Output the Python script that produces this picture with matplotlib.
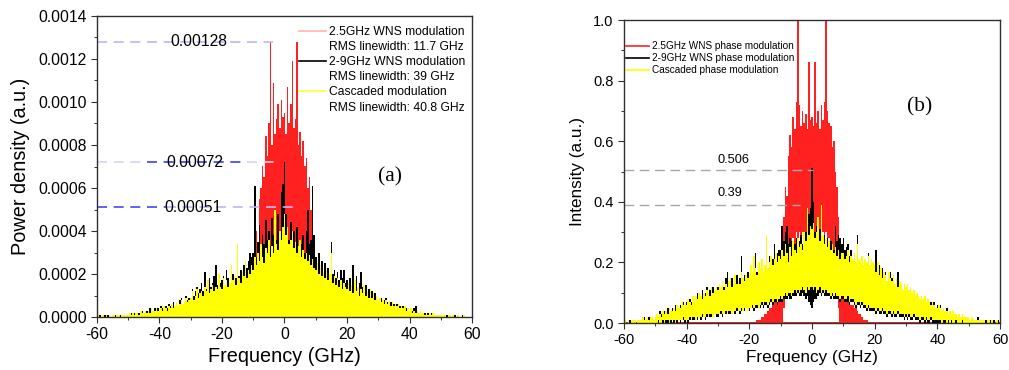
"""
两幅频谱对比图：(a) 功率密度, (b) 强度。
数据是从原图上逐 0.5 GHz 读出的尖峰高度（密集谱线用阶梯填充表示）。
"""
import numpy as np
import matplotlib
matplotlib.use("Agg")
import matplotlib.pyplot as plt
from matplotlib.lines import Line2D
from matplotlib.ticker import MultipleLocator, FormatStrFormatter

plt.rcParams["font.family"] = ["Liberation Sans", "DejaVu Sans"]
plt.rcParams["axes.unicode_minus"] = False

# 频率网格 (GHz)
freq = np.arange(-60, 60.5, 0.5)      # 241 点
freq_c = np.arange(-20, 20.5, 0.5)    # 81 点, 2.5GHz 单音调制只在中间有值

# ---- (a) power density, 单位 1e-5 a.u. ----
a_red = [
    0, 0, 0, 0, 0, 1, 1, 1, 2, 2, 3, 3, 4, 5, 5, 6, 7, 7, 8, 8,
    20, 25, 40, 35, 55, 60, 70, 65, 84, 75, 90, 128, 80, 109, 85, 92, 99, 88, 101, 93,
    95, 85, 107, 90, 99, 119, 88, 92, 128, 80, 86, 75, 82, 70, 74, 60, 65, 50, 45, 35,
    25, 18, 16, 15, 14, 12, 13, 11, 10, 9, 8, 8, 7, 6, 6, 5, 5, 4, 4, 3, 3,
]
a_black = [
    0, 0, 1, 0, 0, 1, 0, 1, 0, 0, 1, 0, 1, 1, 0, 1, 1, 0, 1, 1,
    1, 1, 2, 1, 2, 1, 2, 2, 1, 3, 2, 2, 3, 2, 4, 3, 3, 4, 3, 4,
    3, 5, 4, 3, 5, 4, 6, 5, 4, 7, 5, 6, 5, 8, 9, 6, 7, 10, 8, 9,
    9, 13, 10, 12, 14, 11, 13, 16, 12, 21, 13, 15, 18, 14, 16, 19, 24, 15, 17, 16,
    17, 19, 15, 22, 18, 16, 19, 20, 17, 18, 33, 19, 22, 20, 24, 21, 23, 26, 30, 28,
    30, 61, 28, 35, 43, 30, 38, 34, 45, 36, 40, 33, 46, 38, 42, 36, 48, 40, 58, 62,
    72, 48, 40, 36, 44, 34, 40, 32, 42, 30, 36, 34, 38, 30, 40, 50, 34, 36, 61, 38,
    28, 24, 30, 22, 26, 20, 25, 19, 23, 18, 35, 20, 22, 18, 21, 17, 22, 18, 22, 16,
    17, 14, 18, 13, 24, 15, 19, 13, 16, 21, 14, 11, 15, 10, 13, 9, 12, 10, 11, 9,
    8, 7, 9, 6, 8, 9, 7, 6, 7, 5, 6, 5, 6, 4, 5, 4, 5, 3, 4, 3,
    3, 4, 3, 4, 5, 3, 2, 3, 2, 2, 2, 1, 2, 1, 2, 1, 1, 1, 1, 1,
    1, 1, 0, 1, 1, 0, 1, 0, 0, 1, 0, 1, 0, 0, 1, 0, 0, 0, 0, 0,
    0,
]
a_yellow = [
    0, 1, 0, 0, 1, 0, 1, 0, 1, 0, 1, 1, 0, 1, 1, 0, 1, 1, 1, 1,
    1, 2, 1, 2, 1, 2, 2, 1, 3, 2, 2, 3, 2, 3, 2, 4, 3, 3, 4, 3,
    3, 4, 3, 5, 4, 3, 5, 4, 6, 4, 5, 7, 5, 6, 8, 6, 7, 9, 7, 8,
    9, 12, 8, 10, 13, 9, 11, 12, 10, 14, 12, 17, 11, 13, 15, 12, 14, 13, 20, 14,
    13, 18, 15, 17, 14, 16, 24, 17, 19, 15, 34, 18, 16, 21, 19, 26, 18, 22, 20, 24,
    22, 28, 24, 30, 26, 34, 28, 25, 32, 30, 36, 28, 33, 30, 50, 34, 31, 40, 36, 42,
    48, 38, 42, 34, 36, 40, 32, 35, 30, 33, 36, 28, 31, 27, 30, 26, 29, 24, 27, 23,
    22, 25, 20, 24, 19, 21, 18, 22, 17, 20, 30, 16, 19, 15, 18, 14, 17, 13, 16, 14,
    13, 16, 12, 15, 11, 17, 12, 14, 10, 13, 11, 15, 10, 12, 9, 13, 9, 11, 8, 10,
    8, 9, 7, 8, 6, 8, 6, 7, 5, 7, 5, 6, 5, 6, 4, 5, 4, 5, 3, 4,
    3, 4, 2, 3, 2, 3, 2, 3, 2, 2, 1, 2, 1, 2, 1, 2, 1, 1, 1, 1,
    1, 1, 1, 1, 0, 1, 1, 0, 1, 0, 0, 1, 0, 0, 0, 1, 0, 0, 0, 0,
    0,
]

# ---- (b) intensity, 单位 0.01 a.u.; 密集谱线的上沿 / 下沿 ----
b_red_hi = [
    0, 0, 0, 0, 0, 1, 1, 1, 2, 2, 3, 3, 4, 5, 5, 6, 7, 7, 8, 8,
    9, 20, 35, 45, 42, 55, 62, 58, 68, 64, 73, 100, 72, 65, 70, 66, 69, 64, 86, 67,
    68, 65, 86, 66, 70, 64, 72, 67, 73, 100, 70, 66, 65, 58, 60, 50, 45, 35, 25, 15,
    9, 8, 8, 7, 7, 6, 6, 5, 5, 4, 3, 3, 2, 1, 1, 1, 0, 0, 0, 0, 0,
]
b_red_lo = [
    0, 0, 0, 0, 0, 0, 0, 0, 0, 0, 0, 0, 0, 0, 0, 0, 0, 0, 0, 0,
    0, 0, 5, 10, 15, 20, 22, 25, 28, 26, 30, 28, 30, 27, 30, 28, 26, 30, 28, 30,
    30, 28, 30, 26, 28, 30, 27, 30, 28, 30, 26, 28, 25, 22, 20, 15, 10, 5, 0, 0,
    0, 0, 0, 0, 0, 0, 0, 0, 0, 0, 0, 0, 0, 0, 0, 0, 0, 0, 0, 0, 0,
]
b_black_hi = [
    0, 1, 0, 1, 1, 0, 1, 1, 0, 1, 1, 1, 1, 2, 1, 1, 2, 1, 2, 1,
    2, 3, 2, 4, 3, 3, 4, 3, 5, 4, 4, 5, 4, 6, 5, 5, 6, 5, 7, 6,
    7, 6, 8, 7, 9, 7, 8, 10, 8, 9, 11, 9, 10, 12, 9, 11, 10, 12, 10, 11,
    12, 13, 11, 14, 12, 15, 17, 13, 14, 15, 12, 14, 16, 13, 15, 22, 14, 16, 15, 17,
    16, 18, 17, 20, 23, 17, 19, 18, 21, 17, 19, 21, 18, 22, 20, 21, 26, 20, 23, 24,
    24, 32, 27, 30, 32, 26, 28, 27, 25, 26, 28, 24, 27, 29, 26, 28, 30, 34, 36, 38,
    51, 40, 30, 32, 29, 31, 28, 27, 29, 26, 28, 25, 27, 26, 24, 32, 27, 29, 28, 26,
    28, 24, 25, 26, 22, 24, 21, 23, 20, 29, 21, 20, 22, 19, 21, 20, 23, 19, 20, 19,
    18, 24, 17, 19, 16, 18, 15, 17, 14, 17, 17, 15, 14, 12, 13, 17, 12, 13, 11, 12,
    11, 12, 10, 11, 9, 10, 8, 10, 9, 8, 9, 7, 8, 7, 8, 6, 7, 6, 7, 5,
    6, 5, 6, 4, 5, 4, 5, 3, 4, 3, 4, 3, 3, 2, 3, 2, 3, 2, 2, 2,
    2, 1, 2, 1, 1, 1, 2, 1, 1, 1, 1, 1, 0, 1, 1, 0, 1, 0, 0, 1,
    0,
]
b_black_lo = [
    0, 0, 0, 0, 0, 0, 0, 0, 0, 0, 0, 0, 0, 0, 0, 0, 0, 0, 0, 0,
    0, 0, 0, 0, 0, 0, 0, 0, 0, 0, 0, 1, 0, 0, 0, 1, 0, 1, 1, 0,
    1, 0, 1, 1, 1, 1, 1, 1, 2, 1, 2, 2, 1, 2, 2, 2, 2, 2, 3, 2,
    2, 3, 3, 2, 3, 3, 3, 3, 3, 3, 4, 3, 4, 4, 3, 4, 4, 4, 5, 4,
    4, 5, 5, 4, 5, 5, 5, 5, 6, 5, 6, 6, 5, 6, 7, 6, 7, 7, 6, 7,
    7, 7, 8, 8, 8, 9, 8, 8, 9, 9, 9, 10, 9, 9, 10, 9, 8, 9, 7, 6,
    5, 7, 8, 8, 9, 10, 9, 10, 9, 9, 9, 9, 8, 9, 8, 8, 8, 8, 7, 8,
    8, 7, 7, 7, 6, 7, 7, 6, 5, 6, 6, 5, 6, 5, 5, 4, 5, 4, 4, 4,
    4, 3, 4, 3, 3, 4, 3, 3, 2, 3, 3, 2, 3, 2, 2, 3, 2, 2, 2, 1,
    2, 1, 2, 1, 1, 2, 1, 1, 1, 0, 1, 1, 0, 1, 0, 0, 1, 0, 0, 0,
    0, 0, 0, 0, 0, 0, 0, 0, 0, 0, 0, 0, 0, 0, 0, 0, 0, 0, 0, 0,
    0, 0, 0, 0, 0, 0, 0, 0, 0, 0, 0, 0, 0, 0, 0, 0, 0, 0, 0, 0,
    0,
]
b_yellow_hi = [
    0, 1, 0, 1, 0, 1, 1, 1, 0, 1, 1, 1, 2, 1, 1, 2, 1, 2, 2, 1,
    2, 3, 2, 3, 2, 4, 3, 4, 3, 5, 4, 4, 5, 4, 6, 5, 5, 7, 6, 6,
    6, 8, 7, 6, 9, 7, 9, 8, 10, 9, 8, 10, 9, 11, 10, 9, 12, 10, 11, 12,
    11, 13, 12, 14, 11, 13, 12, 14, 15, 12, 13, 16, 13, 14, 13, 17, 15, 14, 16, 15,
    16, 19, 17, 22, 18, 16, 20, 18, 21, 17, 19, 29, 18, 20, 22, 19, 21, 23, 20, 22,
    21, 24, 22, 26, 23, 20, 25, 22, 27, 24, 23, 28, 25, 26, 24, 30, 27, 38, 29, 32,
    31, 33, 28, 30, 35, 27, 39, 29, 26, 28, 25, 27, 24, 26, 23, 25, 22, 24, 21, 23,
    23, 21, 22, 24, 20, 22, 21, 23, 20, 26, 21, 20, 22, 19, 21, 20, 22, 19, 21, 20,
    19, 17, 20, 16, 18, 15, 17, 16, 14, 17, 15, 14, 16, 13, 15, 12, 14, 13, 11, 13,
    12, 13, 11, 12, 10, 11, 9, 10, 9, 8, 9, 8, 9, 7, 8, 7, 6, 7, 6, 5,
    5, 6, 5, 4, 5, 4, 4, 3, 4, 3, 4, 3, 3, 2, 3, 2, 3, 2, 2, 2,
    2, 1, 2, 1, 1, 1, 1, 1, 1, 1, 1, 0, 1, 1, 0, 1, 0, 0, 1, 0,
    0,
]
b_yellow_lo = [
    0, 0, 0, 0, 0, 0, 0, 0, 0, 0, 0, 0, 0, 0, 0, 0, 0, 0, 0, 0,
    0, 0, 1, 0, 0, 1, 0, 1, 1, 0, 1, 1, 1, 0, 1, 1, 1, 1, 2, 1,
    1, 1, 2, 1, 2, 2, 1, 2, 2, 2, 3, 2, 2, 3, 2, 3, 3, 2, 3, 3,
    3, 3, 4, 3, 3, 4, 3, 4, 4, 3, 4, 4, 5, 4, 4, 5, 4, 5, 5, 4,
    5, 5, 6, 5, 6, 6, 5, 6, 7, 6, 7, 7, 6, 7, 8, 7, 8, 8, 7, 8,
    9, 8, 9, 10, 9, 10, 10, 9, 10, 11, 10, 11, 10, 11, 12, 11, 10, 12, 11, 12,
    12, 11, 12, 10, 11, 12, 10, 11, 10, 11, 10, 10, 9, 10, 9, 10, 9, 9, 8, 9,
    9, 8, 8, 9, 7, 8, 8, 7, 6, 7, 7, 6, 7, 6, 6, 5, 6, 5, 5, 5,
    5, 4, 5, 4, 4, 5, 4, 4, 3, 4, 4, 3, 4, 3, 3, 4, 3, 3, 3, 2,
    3, 2, 3, 2, 2, 3, 2, 2, 2, 1, 2, 2, 1, 2, 1, 1, 2, 1, 1, 1,
    1, 1, 1, 0, 1, 1, 0, 1, 0, 1, 0, 0, 1, 0, 0, 0, 1, 0, 0, 0,
    0, 0, 0, 0, 0, 0, 0, 0, 0, 0, 0, 0, 0, 0, 0, 0, 0, 0, 0, 0,
    0,
]

a_legend = ["2.5GHz WNS modulation", "RMS linewidth: 11.7 GHz",
            "2-9GHz WNS modulation", "RMS linewidth: 39 GHz",
            "Cascaded modulation", "RMS linewidth: 40.8 GHz"]
b_legend = ["2.5GHz WNS phase modulation", "2-9GHz WNS phase modulation",
            "Cascaded phase modulation"]
a_marks = [0.00128, 0.00072, 0.00051]
b_marks = [0.506, 0.39]

RED, BLACK, YELLOW = "#ff2020", "#000000", "#ffff00"
SPINE = "#303030"


def spectrum(ax, x, lo, hi, color, z):
    # 每个 0.5 GHz 采样画成一根阶梯柱, 整体一个多边形, 没有接缝
    ax.fill_between(x, lo, hi, step="mid", color=color, lw=0, zorder=z)


def style_axes(ax, labelsize):
    for s in ax.spines.values():
        s.set_color(SPINE)
        s.set_linewidth(1.0)
        s.set_zorder(6)
    ax.tick_params(which="major", direction="out", length=4, width=0.8,
                   labelsize=labelsize, colors=SPINE, labelcolor="black")
    ax.tick_params(which="minor", direction="out", length=2.2, width=0.7, colors=SPINE)
    ax.xaxis.set_major_locator(MultipleLocator(20))
    ax.xaxis.set_minor_locator(MultipleLocator(10))
    ax.set_xlim(-60, 60)


fig = plt.figure(figsize=(10.09, 3.70), dpi=100)

# ---------------- (a) ----------------
axa = fig.add_axes([0.0961, 0.1432, 0.3717, 0.8136])
spectrum(axa, freq_c, 0, np.array(a_red) * 1e-5, RED, 1)
spectrum(axa, freq, 0, np.array(a_black) * 1e-5, BLACK, 2)
spectrum(axa, freq, 0, np.array(a_yellow) * 1e-5, YELLOW, 3)

light, dark = "#b8b8f4", "#4848f0"
dash = (0, (6, 4))
axa.hlines(a_marks[0], -60, -3.7, color=light, lw=1.2, linestyles=[dash], zorder=4)
axa.hlines(a_marks[1], -60, -2.4, color="#d4d4f4", lw=1.2, linestyles=[dash], zorder=4)
axa.hlines(a_marks[1], -44, -14, color=dark, lw=1.2, linestyles=[dash], zorder=4)
axa.hlines(a_marks[2], -60, -38, color=dark, lw=1.2, linestyles=[dash], zorder=4)
axa.hlines(a_marks[2], -38, 3.4, color=light, lw=1.2, linestyles=[dash], zorder=4)
for v, xc in zip(a_marks, [-27.5, -28.8, -29.3]):
    axa.text(xc, v, f"{v:.5f}", ha="center", va="center", fontsize=11.3, zorder=5)
axa.text(33.8, 0.00065, "(a)", family="Liberation Serif", fontsize=15.5,
         ha="center", va="center")

axa.set_ylim(0, 0.0014)
axa.yaxis.set_major_locator(MultipleLocator(0.0002))
axa.yaxis.set_minor_locator(MultipleLocator(0.0001))
axa.yaxis.set_major_formatter(FormatStrFormatter("%.4f"))
style_axes(axa, 11.3)
axa.set_xlabel("Frequency (GHz)", fontsize=14.3, labelpad=3)
axa.set_ylabel("Power density (a.u.)", fontsize=14.3, labelpad=6)

ha = [Line2D([], [], color="#ffb4b4", lw=1.2), Line2D([], [], color="none"),
      Line2D([], [], color=BLACK, lw=1.2), Line2D([], [], color="none"),
      Line2D([], [], color="#ffff40", lw=1.2), Line2D([], [], color="none")]
axa.legend(ha, a_legend, loc="upper right", bbox_to_anchor=(0.981, 0.967),
           frameon=False, fontsize=8.7, handlelength=2.2, handletextpad=0.25,
           labelspacing=0.26, borderpad=0, borderaxespad=0)

# ---------------- (b) ----------------
axb = fig.add_axes([0.6184, 0.127, 0.3727, 0.8189])
axb.axhline(0, color=RED, lw=1.4, zorder=1)
spectrum(axb, freq_c, np.array(b_red_lo) * 0.01, np.array(b_red_hi) * 0.01, RED, 1)
spectrum(axb, freq, np.array(b_black_lo) * 0.01, np.array(b_black_hi) * 0.01, BLACK, 2)
spectrum(axb, freq, np.array(b_yellow_lo) * 0.01, np.array(b_yellow_hi) * 0.01, YELLOW, 3)

grey = "#a8a8a8"
axb.hlines(b_marks[0], -60, 0.3, color=grey, lw=1.0, linestyles=[(0, (7, 4))], zorder=4)
axb.hlines(b_marks[1], -60, -3.8, color=grey, lw=1.0, linestyles=[(0, (7, 4))], zorder=4)
axb.text(-30, 0.538, f"{b_marks[0]:.3f}", ha="left", va="center", fontsize=9.2)
axb.text(-30, 0.43, f"{b_marks[1]:.2f}", ha="left", va="center", fontsize=9.2)
axb.text(34.3, 0.713, "(b)", family="Liberation Serif", fontsize=15.5,
         ha="center", va="center")

axb.set_ylim(0, 1.0)
axb.yaxis.set_major_locator(MultipleLocator(0.2))
axb.yaxis.set_minor_locator(MultipleLocator(0.1))
axb.yaxis.set_major_formatter(FormatStrFormatter("%.1f"))
style_axes(axb, 10.5)
axb.set_xlabel("Frequency (GHz)", fontsize=12.3, labelpad=2)
axb.set_ylabel("Intensity (a.u.)", fontsize=12.3, labelpad=6)

hb = [Line2D([], [], color=RED, lw=1.2), Line2D([], [], color=BLACK, lw=1.2),
      Line2D([], [], color=YELLOW, lw=1.2)]
axb.legend(hb, b_legend, loc="upper left", bbox_to_anchor=(0.005, 0.93),
           frameon=False, fontsize=7.2, handlelength=2.3, handletextpad=0.3,
           labelspacing=0.2, borderpad=0, borderaxespad=0)

fig.savefig("out.png", dpi=100)
